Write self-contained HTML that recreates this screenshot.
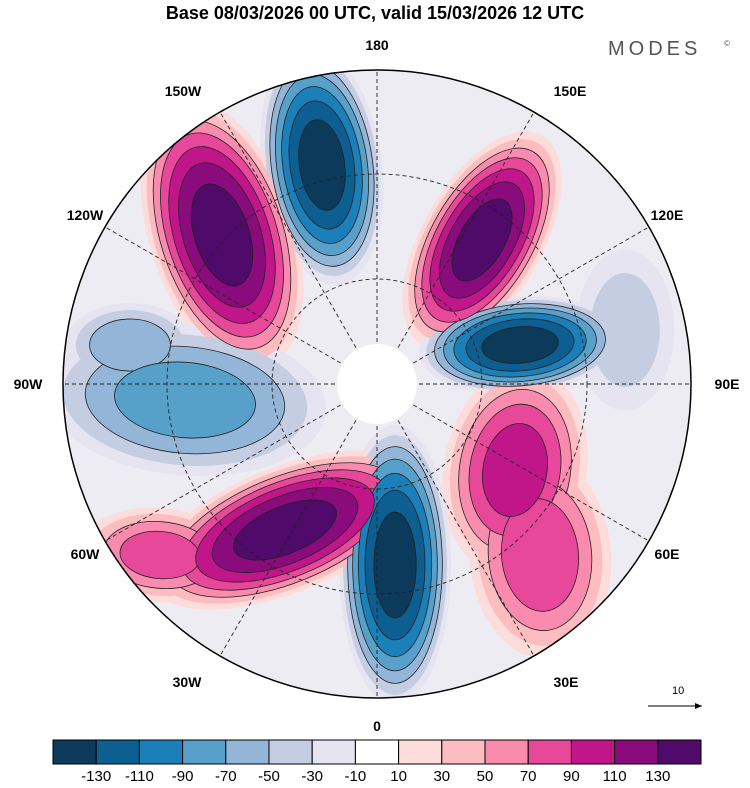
<!DOCTYPE html>
<html><head><meta charset="utf-8"><style>
body{margin:0;background:#fff;width:750px;height:783px;overflow:hidden;font-family:"Liberation Sans",sans-serif}
</style></head><body>
<svg id="s" width="750" height="783" viewBox="0 0 750 783">
<text x="375" y="19" text-anchor="middle" font-size="18" font-weight="bold">Base 08/03/2026 00 UTC, valid 15/03/2026 12 UTC</text>
<text x="608" y="55" font-size="20" fill="#555" letter-spacing="4">MODES</text>
<text x="724" y="46" font-size="8" fill="#555">©</text>
<defs><clipPath id="cp"><circle cx="377" cy="384" r="314"/></clipPath></defs>
<g clip-path="url(#cp)">
<circle cx="377" cy="384" r="314" fill="#eeecf3"/>
<g id="blobs"></g>
<g id="grid" stroke="#222" stroke-dasharray="4,3" stroke-width="0.9" fill="none"></g>
<circle cx="377" cy="384" r="40" fill="#fff"/>
</g>
<circle cx="377" cy="384" r="314" fill="none" stroke="#000" stroke-width="1.5"/>
<g font-size="14" font-weight="bold" text-anchor="middle">
<text x="377" y="50">180</text><text x="377" y="731">0</text>
<text x="28" y="389">90W</text><text x="727" y="389">90E</text>
<text x="183" y="96">150W</text><text x="570" y="96">150E</text>
<text x="85" y="220">120W</text><text x="667" y="220">120E</text>
<text x="85" y="559">60W</text><text x="667" y="559">60E</text>
<text x="187" y="687">30W</text><text x="566" y="687">30E</text>
</g>
<g>
<text x="672" y="694" font-size="11">10</text>
<line x1="648" y1="706" x2="702" y2="706" stroke="#000"/><path d="M702 706 l-7 -3 v6z"/>
</g>
<g id="cbar"></g>
</svg>
<script>
const levels=[-130,-110,-90,-70,-50,-30,-10,10,30,50,70,90,110,130];
const colors=["#0c3a5a","#0d5f92","#1b7fba","#56a0c9","#93b6d8","#c4cde2","#e6e4f0","#ffffff","#fddcdc","#fdbcc0","#f98bae","#e8489a","#c0168a","#8a0c7c","#4f0a6a"];
// anomaly centres
const blobX=[322,222,482,520,185,515,540,395,285,160,625,130];
const blobY=[165,235,240,345,400,470,555,565,530,555,330,345];
const blobPeak=[-135,135,135,-135,-75,95,80,-135,135,75,-35,-60];
const blobRx=[62,75,62,105,150,75,75,58,150,85,55,70];
const blobRy=[125,145,125,50,80,110,110,145,65,50,90,45];
const blobRot=[-8,-18,30,-5,5,10,-5,0,-22,5,0,0];
const NS="http://www.w3.org/2000/svg";
const bg=document.getElementById('blobs');
for(const t of [10,30,50,70,90,110,130]){
 for(let b=0;b<blobX.length;b++){
  const pk=blobPeak[b],neg=pk<0,a=Math.abs(pk);
  if(t>=a)continue;
  const f=Math.sqrt(1-t/(a+15));
  const e=document.createElementNS(NS,'ellipse');
  
  
  e.setAttribute('cx',blobX[b]);e.setAttribute('cy',blobY[b]);
  e.setAttribute('rx',blobRx[b]*f);e.setAttribute('ry',blobRy[b]*f);
  e.setAttribute('transform','rotate('+blobRot[b]+' '+blobX[b]+' '+blobY[b]+')');
  e.setAttribute('fill',neg?colors[levels.indexOf(-t)]:colors[levels.indexOf(t)+1]);
  if(t>=50){e.setAttribute('stroke','#222');e.setAttribute('stroke-width','0.8');}
  bg.appendChild(e);
 }
}
const g=document.getElementById('grid');
for(let k=0;k<12;k++){const an=k*Math.PI/6;const l=document.createElementNS(NS,'line');
l.setAttribute('x1',377);l.setAttribute('y1',384);l.setAttribute('x2',377+320*Math.cos(an));l.setAttribute('y2',384+320*Math.sin(an));


g.appendChild(l);}
for(const r of [105,210]){const c=document.createElementNS(NS,'circle');c.setAttribute('cx',377);c.setAttribute('cy',384);c.setAttribute('r',r);


g.appendChild(c);}
const cb=document.getElementById('cbar');const w=648/15;
for(let i=0;i<15;i++){const r=document.createElementNS(NS,'rect');r.setAttribute('x',53+i*w);r.setAttribute('y',740);r.setAttribute('width',w);r.setAttribute('height',24);
r.setAttribute('fill',colors[i]);r.setAttribute('stroke','#000');


cb.appendChild(r);}
for(let i=0;i<levels.length;i++){const t=document.createElementNS(NS,'text');t.setAttribute('x',53+(i+1)*w);t.setAttribute('y',781);
t.setAttribute('text-anchor','middle');t.setAttribute('font-size','15');t.textContent=levels[i];


cb.appendChild(t);}
</script>
</body></html>
